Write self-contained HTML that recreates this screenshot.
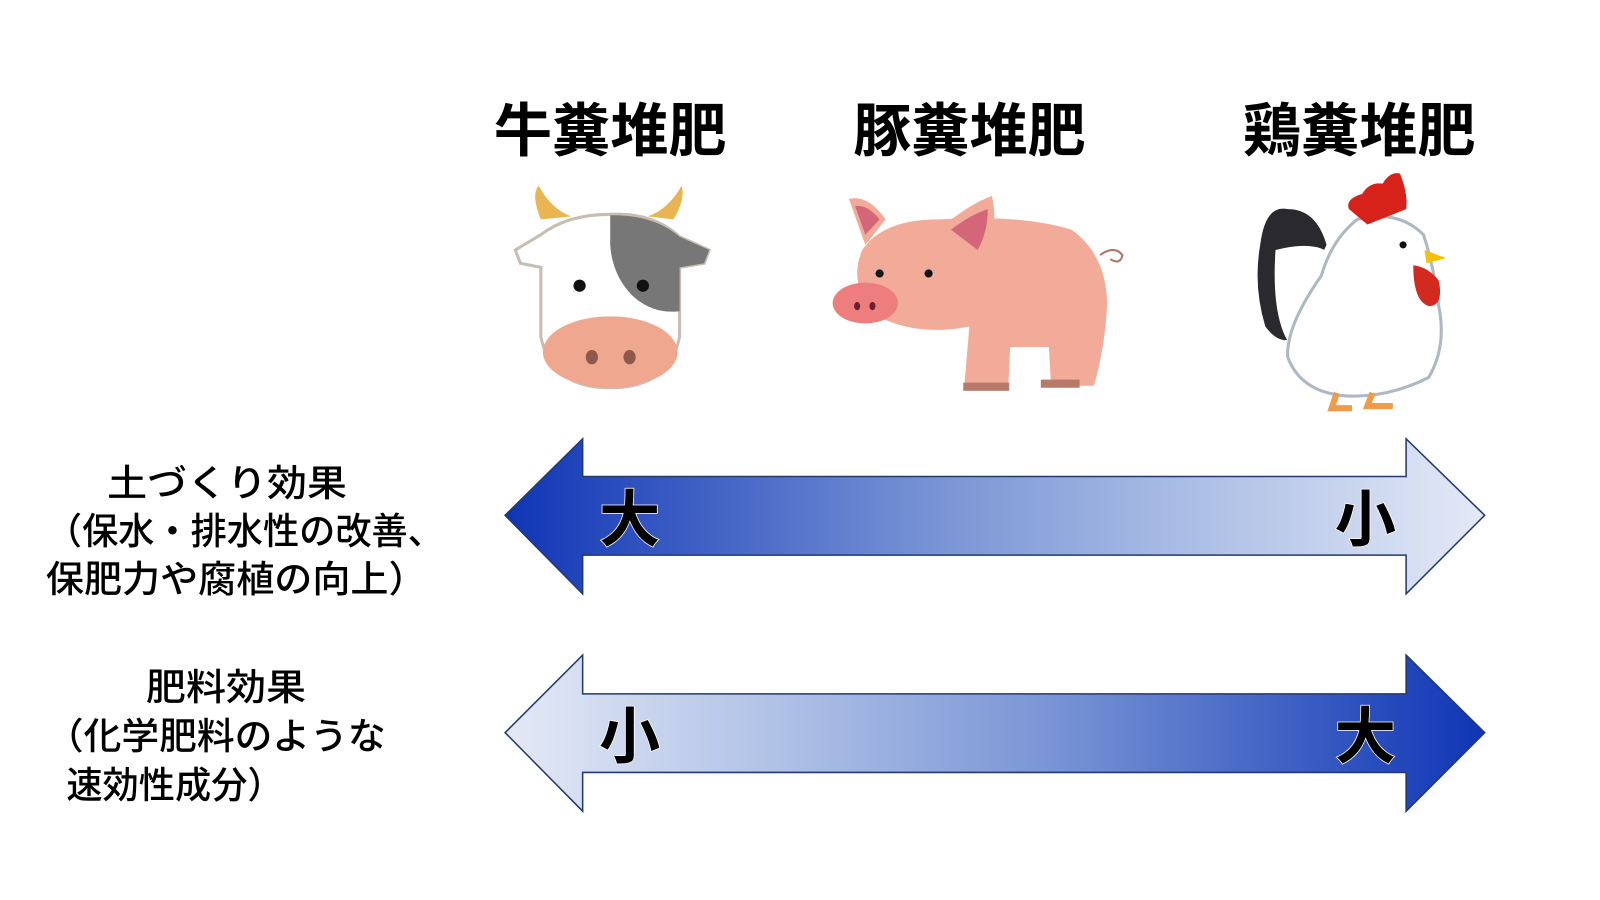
<!DOCTYPE html>
<html><head><meta charset="utf-8"><style>
html,body{margin:0;padding:0;background:#fff;width:1600px;height:900px;overflow:hidden}
svg{display:block}
text{font-family:"Liberation Sans","Noto Sans CJK JP",sans-serif}
</style></head><body>
<svg width="1600" height="900" viewBox="0 0 1568 882" xmlns="http://www.w3.org/2000/svg">
<defs>
<linearGradient id="g1" x1="0" x2="1" y1="0" y2="0">
<stop offset="0" stop-color="#0f35b5"/><stop offset="0.45" stop-color="#7b96d6"/><stop offset="0.72" stop-color="#afc1e6"/><stop offset="1" stop-color="#e4e9f6"/>
</linearGradient>
<linearGradient id="g2" x1="1" x2="0" y1="0" y2="0">
<stop offset="0" stop-color="#0f35b5"/><stop offset="0.45" stop-color="#7b96d6"/><stop offset="0.72" stop-color="#afc1e6"/><stop offset="1" stop-color="#e4e9f6"/>
</linearGradient>
</defs>
<g font-weight="bold" font-size="57" text-anchor="middle" fill="#000">
<text x="598" y="148">牛糞堆肥</text>
<text x="950" y="148">豚糞堆肥</text>
<text x="1332" y="148">鶏糞堆肥</text>
</g>
<!-- cow -->
<g>
<path d="M530 215 Q520 190 528 182 Q540 205 560 212 Z" fill="#e8b552"/>
<path d="M660 215 Q672 195 668 182 Q655 205 635 212 Z" fill="#e8b552"/>
<path d="M530 230 L505 245 L510 258 L530 262 L530 330 Q540 380 598 380 Q656 380 666 330 L666 262 L690 258 L695 245 L666 232 Q640 208 598 210 Q556 210 530 230 Z" fill="#fff" stroke="#c6bdb3" stroke-width="3"/>
<path d="M598 211 Q640 210 666 232 L695 245 L690 258 L666 262 L666 305 Q640 308 620 290 Q600 270 598 240 Z" fill="#777"/>
<circle cx="568" cy="280" r="6" fill="#111"/><circle cx="630" cy="280" r="6" fill="#111"/>
<ellipse cx="598" cy="345" rx="66" ry="35" fill="#f0a78f"/>
<ellipse cx="580" cy="350" rx="6" ry="7" fill="#8d5a4a"/><ellipse cx="617" cy="350" rx="6" ry="7" fill="#8d5a4a"/>
</g>
<!-- pig -->
<g>
<path d="M945 378 L950 320 Q900 330 860 310 Q830 280 845 245 Q865 215 920 215 Q1000 210 1050 225 Q1085 250 1085 300 Q1082 345 1072 378 L1030 378 L1028 340 L990 340 L988 380 Z" fill="#f3ab99"/>
<path d="M832 195 Q850 190 868 215 L848 240 Z" fill="#f3ab99"/><path d="M838 202 Q850 200 862 215 L848 230 Z" fill="#d36779"/>
<path d="M920 225 Q950 200 972 192 Q980 225 962 255 Z" fill="#f3ab99"/><path d="M932 225 Q952 210 968 205 Q968 228 958 245 Z" fill="#d36779"/>
<ellipse cx="848" cy="297" rx="32" ry="20" fill="#ee7e7e"/>
<ellipse cx="840" cy="300" rx="3" ry="4" fill="#6a2030"/><ellipse cx="855" cy="300" rx="3" ry="4" fill="#6a2030"/>
<circle cx="862" cy="268" r="4" fill="#111"/><circle cx="910" cy="268" r="4" fill="#111"/>
<path d="M1078 250 Q1092 240 1100 250 Q1098 260 1088 254" fill="none" stroke="#b8706a" stroke-width="2"/>
<rect x="944" y="375" width="45" height="8" fill="#b77a6a"/><rect x="1020" y="372" width="38" height="8" fill="#b77a6a"/>
</g>
<!-- chicken -->
<g>
<path d="M1262 205 Q1240 200 1235 240 Q1228 280 1240 320 Q1255 340 1270 330 Q1285 270 1300 240 Q1290 205 1262 205 Z" fill="#2a2a2e"/>
<path d="M1250 245 Q1290 235 1305 250 Q1300 300 1270 345 Q1245 320 1250 245 Z" fill="#fff"/>
<path d="M1330 215 Q1305 235 1295 270 Q1260 320 1262 350 Q1275 385 1320 388 Q1360 390 1400 370 Q1418 340 1410 300 Q1405 260 1395 230 Q1370 205 1330 215 Z" fill="#fff" stroke="#aeb8c2" stroke-width="3"/>
<path d="M1322 205 Q1318 195 1335 190 Q1342 178 1355 180 Q1362 168 1372 170 Q1380 190 1378 205 Q1360 212 1340 220 Z" fill="#d7221a"/>
<circle cx="1375" cy="240" r="3.5" fill="#111"/>
<path d="M1396 245 L1417 253 L1398 258 Z" fill="#f5c000"/>
<path d="M1385 260 Q1400 262 1410 275 Q1415 300 1400 300 Q1385 295 1385 260 Z" fill="#d22a1e"/>
<path d="M1310 385 L1305 400 L1325 400 M1345 385 L1340 398 L1365 398" stroke="#f09a4a" stroke-width="6" fill="none"/>
</g>
<!-- arrows -->
<polygon points="495,505 571,430 571,467 1378,467 1378,430 1455,505 1378,582 1378,544 571,544 571,582" fill="url(#g1)" stroke="#243a6c" stroke-width="1.5"/>
<polygon points="495,718 571,642 571,680 1378,680 1378,642 1455,718 1378,795 1378,757 571,757 571,795" fill="url(#g2)" stroke="#243a6c" stroke-width="1.5"/>
<g font-weight="bold" font-size="60" text-anchor="middle" fill="#000" stroke="#fff" stroke-width="1.5" paint-order="stroke">
<text x="617" y="530">大</text><text x="1338" y="530">小</text>
<text x="617" y="743">小</text><text x="1338" y="743">大</text>
</g>
<g font-size="36" fill="#000" font-weight="500">
<text x="105" y="486" textLength="235" lengthAdjust="spacingAndGlyphs">土づくり効果</text>
<text x="45" y="533" textLength="390" lengthAdjust="spacingAndGlyphs">（保水・排水性の改善、</text>
<text x="45" y="580" textLength="373" lengthAdjust="spacingAndGlyphs">保肥力や腐植の向上）</text>
<text x="143" y="686" textLength="157" lengthAdjust="spacingAndGlyphs">肥料効果</text>
<text x="45" y="734" textLength="333" lengthAdjust="spacingAndGlyphs">（化学肥料のような</text>
<text x="65" y="782" textLength="213" lengthAdjust="spacingAndGlyphs">速効性成分）</text>
</g>
</svg>
</body></html>
